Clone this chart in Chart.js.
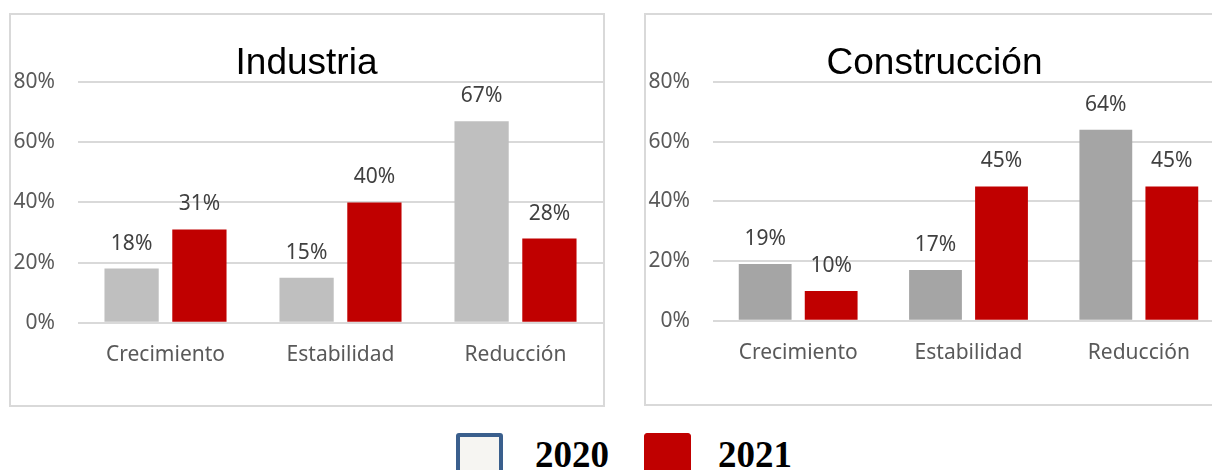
<!DOCTYPE html>
<html>
<head>
<meta charset="utf-8">
<script src="https://cdn.jsdelivr.net/npm/chart.js@4.4.1/dist/chart.umd.min.js"></script>
<style>
  body { margin: 0; width: 1212px; height: 470px; overflow: hidden; background: #fff; position: relative; }
  .frame { position: absolute; border: 2px solid #d9d9d9; box-sizing: border-box; }
  canvas { position: absolute; }
  .legend-box { position: absolute; box-sizing: border-box; border-radius: 3px; }
  .legend-text { position: absolute; font-family: "Liberation Serif", serif; font-weight: bold; font-size: 37px; line-height: 37px; color: #000; }
</style>
</head>
<body>
<div class="frame" style="left:9px; top:13px; width:596px; height:394px;"></div>
<div class="frame" style="left:644px; top:13px; width:600px; height:393px;"></div>
<canvas id="industriaChart" width="593" height="391" style="left:10px; top:14px;"></canvas>
<canvas id="construccionChart" width="579" height="391" style="left:645px; top:14px;"></canvas>
<div id="legend"></div>

<script>
// chart data
const categories = ["Crecimiento", "Estabilidad", "Reducción"];
const years = ["2020", "2021"];
const industria2020 = [18, 15, 67];
const industria2021 = [31, 40, 28];
const construccion2020 = [19, 17, 64];
const construccion2021 = [10, 45, 45];
const yTickValues = [0, 20, 40, 60, 80];

// draws the value above each bar
const barValueLabels = {
  id: "barValueLabels",
  afterDatasetsDraw(chart) {
    const ctx = chart.ctx;
    ctx.save();
    ctx.font = "21px 'Noto Sans'";
    ctx.fillStyle = "#404040";
    ctx.textAlign = "center";
    ctx.textBaseline = "middle";
    chart.data.datasets.forEach((dataset, i) => {
      chart.getDatasetMeta(i).data.forEach((bar, j) => {
        ctx.fillText(dataset.data[j] + "%", bar.x, bar.y - 25);
      });
    });
    ctx.restore();
  },
};

function renderBarChart(canvasId, title, values2020, values2021, color2020, bottomPad) {
  const ctx = document.getElementById(canvasId).getContext("2d");
  return new Chart(ctx, {
    type: "bar",
    data: {
      labels: categories,
      datasets: [
        { label: years[0], data: values2020, backgroundColor: color2020 },
        { label: years[1], data: values2021, backgroundColor: "#c00000" },
      ],
    },
    options: {
      responsive: false,
      animation: false,
      categoryPercentage: 0.775,
      barPercentage: 0.8,
      layout: { padding: { left: 0, right: 0, top: 0, bottom: bottomPad } },
      plugins: {
        legend: { display: false },
        tooltip: { enabled: false },
        title: {
          display: true,
          text: title,
          color: "#000",
          font: { family: "'Liberation Sans'", size: 37, weight: "normal", lineHeight: 1 },
          padding: { top: 31, bottom: 0 },
        },
      },
      scales: {
        x: {
          grid: { display: false },
          border: { display: false },
          ticks: { color: "#595959", padding: 12, font: { family: "'Noto Sans'", size: 21 } },
        },
        y: {
          min: 0,
          max: 80,
          afterBuildTicks: (scale) => {
            scale.ticks = yTickValues.map((v) => ({ value: v }));
          },
          afterFit: (scale) => {
            scale.width = 68;
          },
          grid: { color: "#d9d9d9", lineWidth: 2, drawTicks: false },
          border: { display: false },
          ticks: {
            color: "#595959",
            padding: 23,
            font: { family: "'Noto Sans'", size: 21 },
            callback: (v) => v + "%",
          },
        },
      },
    },
    plugins: [barValueLabels],
  });
}

renderBarChart("industriaChart", "Industria", industria2020, industria2021, "#bfbfbf", 25);
renderBarChart("construccionChart", "Construcción", construccion2020, construccion2021, "#a5a5a5", 27);

// shared legend under both charts
const legendItems = [
  { text: years[0], left: 456, textLeft: 535, fill: "#f6f5f2", border: "4px solid #3a5f8d" },
  { text: years[1], left: 644, textLeft: 718, fill: "#c00000", border: "1px solid #c00000" },
];
const legend = document.getElementById("legend");
legendItems.forEach((item) => {
  const box = document.createElement("div");
  box.className = "legend-box";
  box.style.cssText = `left:${item.left}px; top:433px; width:47px; height:42px; background:${item.fill}; border:${item.border};`;
  const label = document.createElement("div");
  label.className = "legend-text";
  label.style.cssText = `left:${item.textLeft}px; top:436px;`;
  label.textContent = item.text;
  legend.appendChild(box);
  legend.appendChild(label);
});
</script>
</body>
</html>
